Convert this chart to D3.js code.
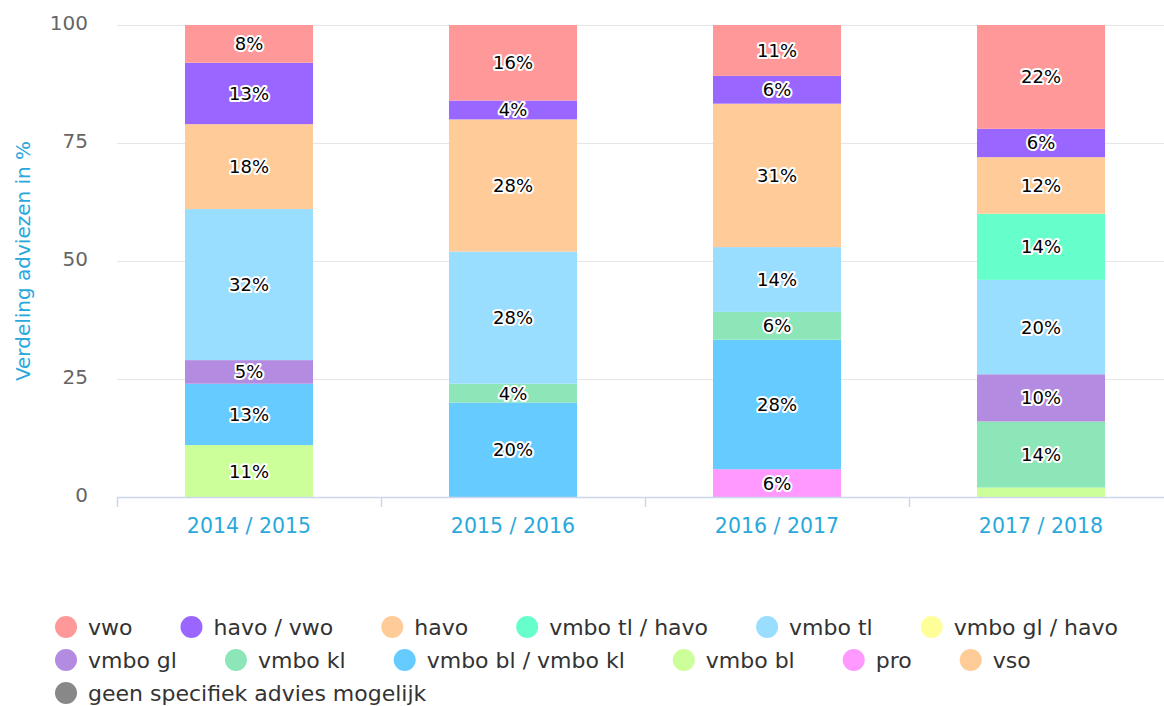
<!DOCTYPE html>
<html>
<head>
<meta charset="UTF-8">
<title>Verdeling adviezen</title>
<style>
  body { margin: 0; background: #fff; }
  svg { display: block; font-family: "DejaVu Sans", Verdana, sans-serif; }
</style>
</head>
<body>
<div id="chart"></div>
<script src="https://cdn.jsdelivr.net/npm/d3@7"></script>
<script>
// schooljaren
var years = ["2014 / 2015", "2015 / 2016", "2016 / 2017", "2017 / 2018"];

// series in legend order (first one ends up on top of the stack)
var series = ["vwo", "havo / vwo", "havo", "vmbo tl / havo", "vmbo tl", "vmbo gl / havo",
  "vmbo gl", "vmbo kl", "vmbo bl / vmbo kl", "vmbo bl", "pro", "vso",
  "geen specifiek advies mogelijk"];
var colors = ["#ff9999", "#9966ff", "#ffcc99", "#66ffcc", "#99ddff", "#ffff99",
  "#b38be0", "#8ce6b8", "#66ccff", "#ccff99", "#ff99ff", "#ffcc99", "#888888"];

// percentage per serie, one value per year
var vwo        = [8, 16, 11, 22];
var havoVwo    = [13, 4, 6, 6];
var havo       = [18, 28, 31, 12];
var tlHavo     = [0, 0, 0, 14];
var vmboTl     = [32, 28, 14, 20];
var glHavo     = [0, 0, 0, 0];
var vmboGl     = [5, 0, 0, 10];
var vmboKl     = [0, 4, 6, 14];
var blKl       = [13, 20, 28, 0];
var vmboBl     = [11, 0, 0, 2];
var pro        = [0, 0, 6, 0];
var vso        = [0, 0, 0, 0];
var geen       = [0, 0, 0, 0];
var values = [vwo, havoVwo, havo, tlHavo, vmboTl, glHavo, vmboGl, vmboKl, blKl, vmboBl, pro, vso, geen];

var yTicks = [0, 25, 50, 75, 100];

var width = 1164, height = 706;
var margin = { left: 117, top: 25, right: -9, bottom: 209 };
var plotW = width - margin.left - margin.right;
var plotH = height - margin.top - margin.bottom;

var svg = d3.select("#chart").append("svg")
  .attr("width", width)
  .attr("height", height);

// rows for d3.stack
var rows = years.map(function(y, i) {
  var r = { year: y };
  series.forEach(function(s, j) { r[s] = values[j][i]; });
  return r;
});

// bottom of the stack is the last serie
var stack = d3.stack()
  .keys(series.slice().reverse())
  .offset(d3.stackOffsetExpand);
var layers = stack(rows);

var x = d3.scaleBand().domain(years).range([margin.left, margin.left + plotW]);
var y = d3.scaleLinear().domain([0, 1]).range([margin.top + plotH, margin.top]);
var color = d3.scaleOrdinal().domain(series).range(colors);

// grid
svg.append("g")
  .selectAll("line")
  .data(yTicks.slice(1))
  .enter().append("line")
  .attr("x1", margin.left).attr("x2", width)
  .attr("y1", function(d) { return y(d / 100) + 0.5; })
  .attr("y2", function(d) { return y(d / 100) + 0.5; })
  .attr("stroke", "#e6e6e6");

// y axis labels
var yAxis = d3.axisLeft(y)
  .tickValues(yTicks.map(function(d) { return d / 100; }))
  .tickFormat(function(d) { return Math.round(d * 100); })
  .tickSize(0).tickPadding(29);
var gy = svg.append("g").attr("transform", "translate(" + margin.left + ",0)").call(yAxis);
gy.select(".domain").remove();
gy.selectAll("text").attr("font-size", 20).attr("fill", "#666666")
  .attr("font-family", "DejaVu Sans").attr("dy", "0.2em");

svg.append("text")
  .attr("transform", "translate(30," + (margin.top + plotH / 2) + ") rotate(-90)")
  .attr("text-anchor", "middle")
  .attr("font-size", 20)
  .attr("fill", "#29a9db")
  .text("Verdeling adviezen in %");

// bars
var barW = x.bandwidth() * 0.485;
var layerG = svg.append("g").selectAll("g")
  .data(layers)
  .enter().append("g")
  .attr("fill", function(d) { return color(d.key); });

layerG.selectAll("rect")
  .data(function(d) { return d; })
  .enter().append("rect")
  .attr("x", function(d) { return x(d.data.year) + (x.bandwidth() - barW) / 2; })
  .attr("y", function(d) { return y(d[1]); })
  .attr("width", barW)
  .attr("height", function(d) { return y(d[0]) - y(d[1]); });

// data labels
layers.forEach(function(layer) {
  layer.forEach(function(d) {
    var h = y(d[0]) - y(d[1]);
    if (h < 16) return;
    var cx = x(d.data.year) + x.bandwidth() / 2;
    var cy = (y(d[0]) + y(d[1])) / 2;
    var t = d.data[layer.key] + "%";
    svg.append("text")
      .attr("x", cx).attr("y", cy).attr("dy", "0.36em")
      .attr("text-anchor", "middle")
      .attr("font-size", 18)
      .attr("fill", "#000")
      .attr("stroke", "#fff").attr("stroke-width", 4)
      .attr("stroke-linejoin", "round")
      .attr("paint-order", "stroke")
      .text(t);
  });
});

// x axis
var gx = svg.append("g").attr("transform", "translate(0," + (margin.top + plotH) + ")");
gx.append("line")
  .attr("x1", margin.left).attr("x2", width)
  .attr("y1", 0.5).attr("y2", 0.5)
  .attr("stroke", "#ccd6eb").attr("stroke-width", 1.5);
gx.selectAll(".tick")
  .data(years)
  .enter().append("line")
  .attr("x1", function(d) { return x(d) + 0.5; })
  .attr("x2", function(d) { return x(d) + 0.5; })
  .attr("y1", 0).attr("y2", 10)
  .attr("stroke", "#ccd6eb").attr("stroke-width", 1.5);
gx.selectAll("text")
  .data(years)
  .enter().append("text")
  .attr("x", function(d) { return x(d) + x.bandwidth() / 2; })
  .attr("y", 36)
  .attr("text-anchor", "middle")
  .attr("font-size", 20.5)
  .attr("fill", "#29a9db")
  .text(function(d) { return d; });

// legend
var legend = svg.append("g");
var lx = 55, ly = 627, rowH = 33, maxX = 1150;
series.forEach(function(s, i) {
  var item = legend.append("g");
  item.append("circle")
    .attr("cx", 11).attr("cy", 0).attr("r", 11)
    .attr("fill", colors[i]);
  var txt = item.append("text")
    .attr("x", 33).attr("y", 0).attr("dy", "0.36em")
    .attr("font-size", 22)
    .attr("fill", "#333333")
    .text(s);
  var w = 33 + txt.node().getComputedTextLength();
  if (lx + w > maxX) { lx = 55; ly += rowH; }
  item.attr("transform", "translate(" + lx + "," + ly + ")");
  lx += w + 48;
});
</script>
</body>
</html>
